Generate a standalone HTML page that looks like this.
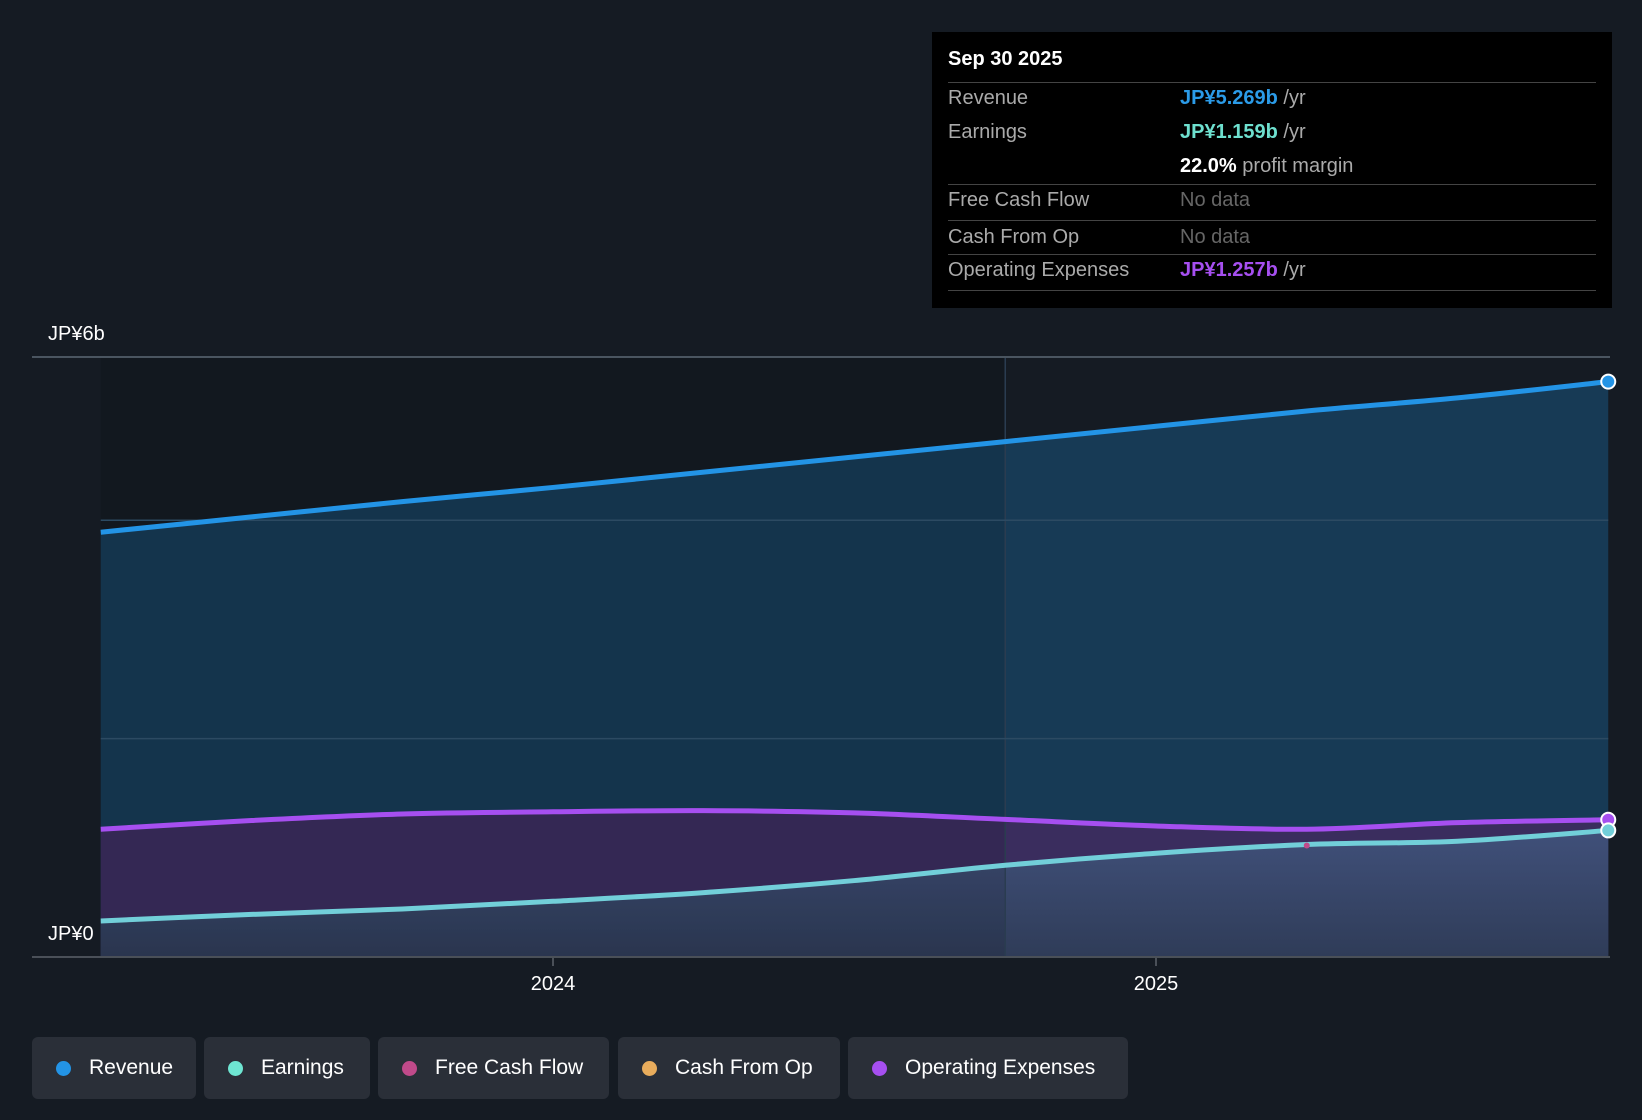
<!DOCTYPE html>
<html><head><meta charset="utf-8"><style>
body{margin:0;background:#151b23;width:1642px;height:1120px;overflow:hidden;font-family:"Liberation Sans",sans-serif}
.lg{position:absolute;top:1037px;height:62px;background:#2a2f38;border-radius:6px;color:#fff;font-size:21px;display:flex;align-items:center;box-sizing:border-box;padding-left:24px}
.lg i{width:15px;height:15px;border-radius:50%;display:inline-block;margin-right:18px}
</style></head><body>
<svg id="chart" width="1642" height="1120" style="position:absolute;left:0;top:0">
<defs>
<linearGradient id="gE" x1="0" y1="0" x2="0" y2="1"><stop offset="0" stop-color="#40507a"/><stop offset="1" stop-color="#2f3c58"/></linearGradient>
</defs>
<g id="areas"></g>
<g id="lines"></g>
<line x1="32" y1="357" x2="1610" y2="357" stroke="#4a5560" stroke-width="2"/>
<line x1="32" y1="957" x2="1610" y2="957" stroke="#4a5058" stroke-width="2"/>
<text x="48" y="340" fill="#fff" font-size="20">JP¥6b</text>
<text x="48" y="940" fill="#fff" font-size="20">JP¥0</text>
<g id="xt"></g>
</svg>
<div style="position:absolute;left:932px;top:32px;width:680px;height:276px;background:#000;color:#fff;font-size:20px">
<div style="position:absolute;left:16px;top:16px;font-weight:bold;font-size:20px">Sep 30 2025</div>
<div style="position:absolute;left:16px;right:16px;top:50px;border-top:1px solid #444"></div>
<div style="position:absolute;left:16px;top:55px;color:#aaa">Revenue</div>
<div style="position:absolute;left:248px;top:55px"><b style="color:#2b9be8">JP¥5.269b</b> <span style="color:#aaa">/yr</span></div>
<div style="position:absolute;left:16px;top:89px;color:#aaa">Earnings</div>
<div style="position:absolute;left:248px;top:89px"><b style="color:#6ee0cf">JP¥1.159b</b> <span style="color:#aaa">/yr</span></div>
<div style="position:absolute;left:248px;top:123px"><b>22.0%</b> <span style="color:#aaa">profit margin</span></div>
<div style="position:absolute;left:16px;right:16px;top:152px;border-top:1px solid #444"></div>
<div style="position:absolute;left:16px;top:157px;color:#aaa">Free Cash Flow</div>
<div style="position:absolute;left:248px;top:157px;color:#666">No data</div>
<div style="position:absolute;left:16px;right:16px;top:188px;border-top:1px solid #444"></div>
<div style="position:absolute;left:16px;top:194px;color:#aaa">Cash From Op</div>
<div style="position:absolute;left:248px;top:194px;color:#666">No data</div>
<div style="position:absolute;left:16px;right:16px;top:222px;border-top:1px solid #444"></div>
<div style="position:absolute;left:16px;top:227px;color:#aaa">Operating Expenses</div>
<div style="position:absolute;left:248px;top:227px"><b style="color:#a64ff0">JP¥1.257b</b> <span style="color:#aaa">/yr</span></div>
<div style="position:absolute;left:16px;right:16px;top:258px;border-top:1px solid #444"></div>
</div>
<div class="lg" style="left:32px;width:164px"><i style="background:#2394e6"></i>Revenue</div>
<div class="lg" style="left:204px;width:166px"><i style="background:#6ee6d2"></i>Earnings</div>
<div class="lg" style="left:378px;width:231px"><i style="background:#c04a8a"></i>Free Cash Flow</div>
<div class="lg" style="left:618px;width:222px"><i style="background:#e8ac5c"></i>Cash From Op</div>
<div class="lg" style="left:848px;width:280px"><i style="background:#a64ff0"></i>Operating Expenses</div>
<script>
const dates=[2023.25,2023.5,2023.75,2024.0,2024.25,2024.5,2024.75,2025.0,2025.25,2025.5,2025.75];
const revenue=[3.89,4.03,4.17,4.30,4.44,4.58,4.72,4.86,5.0,5.12,5.269];
const earnings=[0.33,0.39,0.44,0.51,0.59,0.70,0.84,0.95,1.03,1.06,1.159];
const opex=[1.17,1.25,1.31,1.33,1.34,1.32,1.26,1.20,1.17,1.23,1.257];
const xTicks=[2024,2025];
const xTickLabels=["2024","2025"];
const divider=2024.75;
const X=d=>553+(d-2024)*603;
const Y=v=>957-v*109.2;
const NS="http://www.w3.org/2000/svg";
function path(vals){
  const p=vals.map((v,i)=>[X(dates[i]),Y(v)]);
  let s="M"+p[0][0]+","+p[0][1];
  for(let i=0;i<p.length-1;i++){
    const a=p[i-1]||p[i],b=p[i],c=p[i+1],d=p[i+2]||c;
    s+=" C"+(b[0]+(c[0]-a[0])/6)+","+(b[1]+(c[1]-a[1])/6)+" "+(c[0]-(d[0]-b[0])/6)+","+(c[1]-(d[1]-b[1])/6)+" "+c[0]+","+c[1];
  }
  return s;
}
function mk(tag,attrs,parent){const e=document.createElementNS(NS,tag);for(const k in attrs)e.setAttribute(k,attrs[k]);document.getElementById(parent).appendChild(e);return e;}
const x0=X(dates[0]),x1=X(dates[dates.length-1]),xd=X(divider),yb=Y(0);
const close=" L"+x1+","+yb+" L"+x0+","+yb+" Z";
let e;
e=mk("path",{d:path(revenue)+close,fill:"#173a55"},"areas");


e=mk("path",{d:path(opex)+close,fill:"#3a2d5e"},"areas");


e=mk("path",{d:path(earnings)+close,fill:"url(#gE)"},"areas");


e=mk("rect",{x:x0,y:357,width:xd-x0,height:yb-357,fill:"#000",opacity:"0.10"},"areas");


e=mk("line",{x1:xd,y1:357,x2:xd,y2:yb,stroke:"#2a3c50","stroke-width":1.5},"areas");


for(const y of [2,4]){
  e=mk("line",{x1:x0,y1:Y(y),x2:x1,y2:Y(y),stroke:"#2c4a62","stroke-width":1.5},"areas");
  
  
}
const series=[[revenue,"#2394e6","revenue-line"],[opex,"#a64ff0","opex-line"],[earnings,"#72cfd9","earnings-line"]];
for(const [vals,col,name] of series){
  e=mk("path",{d:path(vals),fill:"none",stroke:col,"stroke-width":5},"lines");
  
  
  e=mk("circle",{cx:x1,cy:Y(vals[vals.length-1]),r:7,fill:col,stroke:"#fff","stroke-width":2},"lines");
  
  
}
e=mk("circle",{cx:X(2025.25),cy:Y(1.03)+1,r:3,fill:"#c04a8a"},"lines");


xTicks.forEach((t,i)=>{
  e=mk("line",{x1:X(t),y1:957,x2:X(t),y2:966,stroke:"#4a5058","stroke-width":2},"xt");
  
  
  e=mk("text",{x:X(t),y:990,fill:"#fff","font-size":20,"text-anchor":"middle"},"xt");
  e.textContent=xTickLabels[i];
  
  
});
</script>
</body></html>
